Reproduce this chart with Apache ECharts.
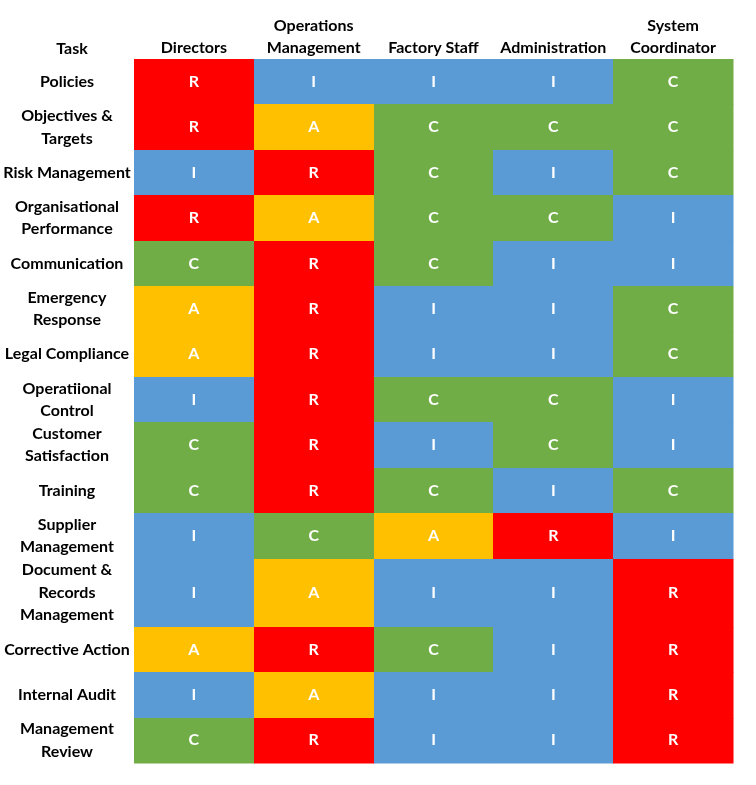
<!DOCTYPE html>
<html>
<head>
<meta charset="utf-8">
<title>RACI Matrix</title>
<script src="https://cdn.jsdelivr.net/npm/echarts@6/dist/echarts.min.js"></script>
<style>
  html, body { margin: 0; padding: 0; background: #fff; }
  #chart { width: 756px; height: 785px; }
</style>
</head>
<body>
<div id="chart"></div>
<script>
// column headers (roles)
var columns = ['Directors', 'Operations\nManagement', 'Factory Staff', 'Administration', 'System\nCoordinator'];

// tasks (rows), line breaks as in the sheet
var tasks = [
    'Policies',
    'Objectives &\nTargets',
    'Risk Management',
    'Organisational\nPerformance',
    'Communication',
    'Emergency\nResponse',
    'Legal Compliance',
    'Operatiional\nControl',
    'Customer\nSatisfaction',
    'Training',
    'Supplier\nManagement',
    'Document &\nRecords\nManagement',
    'Corrective Action',
    'Internal Audit',
    'Management\nReview'
];

// RACI letter per task, in column order
var raci = [
    ['R', 'I', 'I', 'I', 'C'],
    ['R', 'A', 'C', 'C', 'C'],
    ['I', 'R', 'C', 'I', 'C'],
    ['R', 'A', 'C', 'C', 'I'],
    ['C', 'R', 'C', 'I', 'I'],
    ['A', 'R', 'I', 'I', 'C'],
    ['A', 'R', 'I', 'I', 'C'],
    ['I', 'R', 'C', 'C', 'I'],
    ['C', 'R', 'I', 'C', 'I'],
    ['C', 'R', 'C', 'I', 'C'],
    ['I', 'C', 'A', 'R', 'I'],
    ['I', 'A', 'I', 'I', 'R'],
    ['A', 'R', 'C', 'I', 'R'],
    ['I', 'A', 'I', 'I', 'R'],
    ['C', 'R', 'I', 'I', 'R']
];

var letterColors = { R: '#FF0000', A: '#FFC000', C: '#70AD47', I: '#5B9BD5' };
var FONT = 'Lato, "Open Sans", sans-serif';

// rows with 3 wrapped lines are 1.5 rows tall
var rowStart = [], rowEnd = [];
var pos = 0;
tasks.forEach(function (t) {
    var h = t.split('\n').length > 2 ? 1.5 : 1;
    rowStart.push(pos);
    pos += h;
    rowEnd.push(pos);
});
var totalRows = pos;

var cells = [];
var cellLetters = [];
raci.forEach(function (row, i) {
    row.forEach(function (letter, j) {
        cells.push([j, rowStart[i], rowEnd[i]]);
        cellLetters.push(letter);
    });
});
var taskRows = tasks.map(function (t, i) { return [0, rowStart[i], rowEnd[i]]; });

var myChart = echarts.init(document.getElementById('chart'));
var option = {
    animation: false,
    title: {
        text: 'Task',
        left: 67,
        top: 36,
        textAlign: 'center',
        textStyle: { fontFamily: FONT, fontSize: 16, fontWeight: 'bold', color: '#000' }
    },
    grid: { left: 134, right: 23, top: 59, bottom: 22 },
    xAxis: {
        type: 'category',
        position: 'top',
        data: columns,
        axisLine: { show: false },
        axisTick: { show: false },
        splitLine: { show: false },
        axisLabel: {
            interval: 0,
            margin: 0,
            fontFamily: FONT,
            fontSize: 16,
            fontWeight: 'bold',
            color: '#000',
            lineHeight: 22
        }
    },
    yAxis: {
        type: 'value',
        inverse: true,
        min: 0,
        max: totalRows,
        show: false
    },
    series: [
        {
            type: 'custom',
            data: cells,
            encode: { x: 0, y: [1, 2] },
            renderItem: function (params, api) {
                var xi = api.value(0);
                var top = api.coord([xi, api.value(1)]);
                var bot = api.coord([xi, api.value(2)]);
                var w = api.size([1, 0])[0];
                var x0 = Math.round(top[0] - w / 2);
                var x1 = Math.round(top[0] + w / 2);
                var y0 = Math.round(top[1]);
                var y1 = Math.round(bot[1]);
                var letter = cellLetters[params.dataIndex];
                return {
                    type: 'group',
                    children: [
                        {
                            type: 'rect',
                            shape: { x: x0, y: y0, width: x1 - x0 + 0.5, height: y1 - y0 + 0.5 },
                            style: { fill: letterColors[letter] }
                        },
                        {
                            type: 'text',
                            x: top[0],
                            y: (top[1] + bot[1]) / 2,
                            style: {
                                text: letter,
                                fill: '#fff',
                                align: 'center',
                                verticalAlign: 'middle',
                                font: 'bold 16px ' + FONT
                            }
                        }
                    ]
                };
            }
        },
        {
            type: 'custom',
            data: taskRows,
            encode: { x: 0, y: [1, 2] },
            clip: false,
            renderItem: function (params, api) {
                var top = api.coord([0, api.value(1)]);
                var bot = api.coord([0, api.value(2)]);
                return {
                    type: 'text',
                    x: params.coordSys.x / 2,
                    y: (top[1] + bot[1]) / 2,
                    style: {
                        text: tasks[params.dataIndex],
                        fill: '#000',
                        align: 'center',
                        verticalAlign: 'middle',
                        lineHeight: 22.5,
                        font: 'bold 16px ' + FONT
                    }
                };
            }
        }
    ]
};
myChart.setOption(option);
</script>
</body>
</html>
